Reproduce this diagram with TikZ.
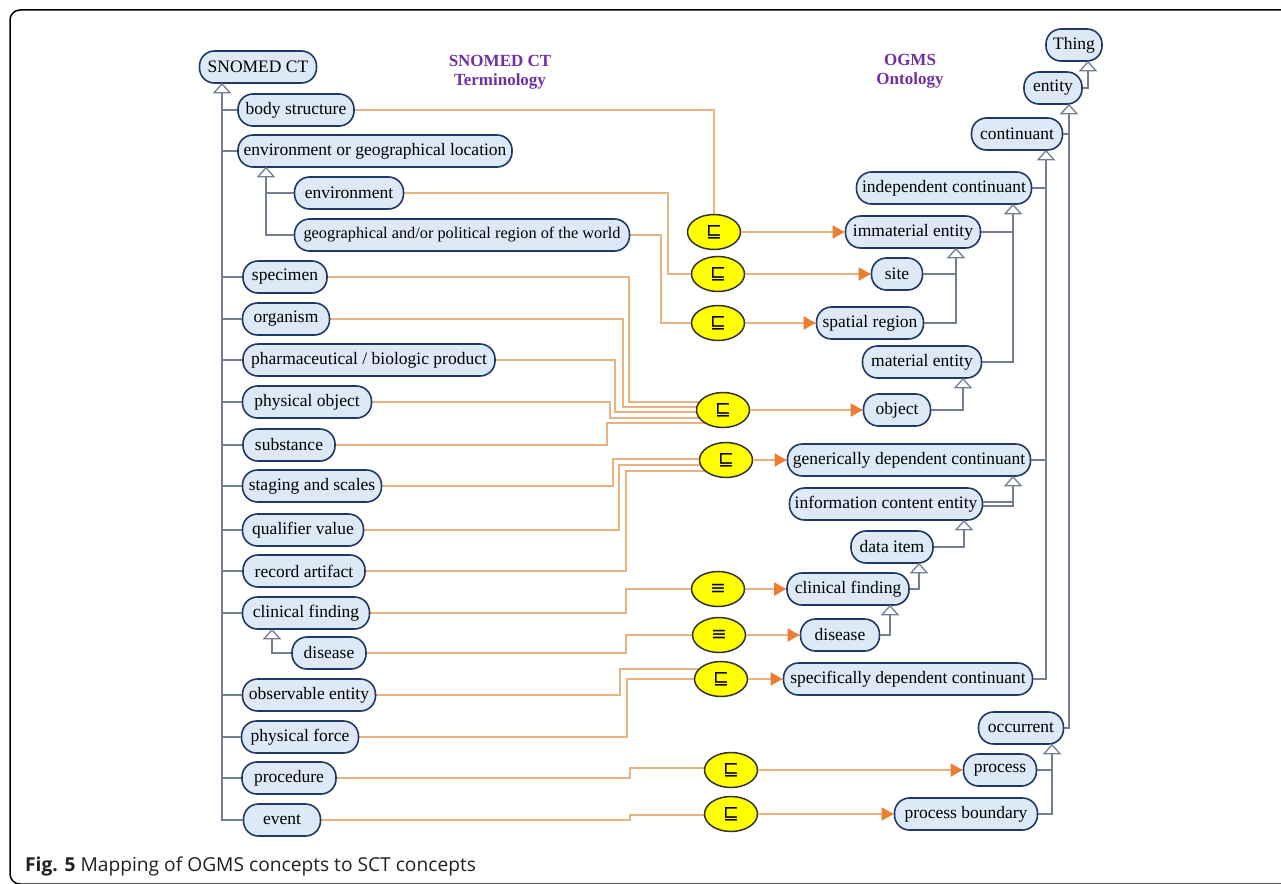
\documentclass[tikz,border=0pt]{standalone}
\usepackage{fontspec}
\setmainfont{Liberation Serif}
\newfontfamily\capfont{Open Sans}
\newfontfamily\symfont{DejaVu Sans}
\usetikzlibrary{arrows.meta,calc,backgrounds,shapes.geometric}
\definecolor{boxfill}{RGB}{221,233,246}
\definecolor{boxdraw}{RGB}{31,56,100}
\definecolor{hiercol}{RGB}{115,126,146}
\definecolor{mapcol}{RGB}{233,178,130}
\definecolor{tipcol}{RGB}{237,125,49}
\definecolor{titlecol}{RGB}{112,48,160}
\definecolor{ovalfill}{RGB}{255,255,0}
\definecolor{ovaldraw}{RGB}{50,50,60}
\definecolor{captext}{RGB}{35,31,32}
\tikzset{
 cbox/.style={draw=boxdraw, fill=boxfill, line width=1.6pt, rounded corners=15pt, minimum height=32pt, inner xsep=2pt, inner ysep=0pt, font=\fontsize{17.5}{20}\selectfont, text=black},
 oval/.style={ellipse, draw=ovaldraw, fill=ovalfill, line width=1.5pt, minimum width=53pt, minimum height=35pt, inner sep=0pt, font=\symfont\fontsize{19}{20}\selectfont},
 hier/.style={draw=hiercol, line width=1.5pt},
 tri/.style={draw=hiercol, line width=1.3pt, fill=white},
 map/.style={draw=mapcol, line width=1.5pt},
 maparrow/.style={map, -{Triangle[length=12pt,width=13pt,color=tipcol]}},
 title/.style={font=\bfseries\fontsize{17}{19}\selectfont, text=titlecol, align=center}
}
\newcommand\isatri[3]{%
 \coordinate (#1) at ($(#2.south -| #3,0)+(0,9)$);
 \draw[tri] (#2.south -| #3,0) -- ++(-8,9) -- ++(16,0) -- cycle;}
\begin{document}
\begin{tikzpicture}[x=1pt,y=-1pt]
\useasboundingbox (0,0) rectangle (1281,883);
\draw[line width=1.5pt, rounded corners=10pt] (1300,10) -- (10,10) -- (10,884) -- (1300,884);

% titles
\node[title] (t1) at (500,72) {SNOMED CT\\Terminology};
\node[title] (t2) at (910,71) {OGMS\\Ontology};

% left column
\node[cbox, minimum width=117pt] (snomed) at (258,67) {SNOMED CT};
\node[cbox, minimum width=116pt] (body) at (296,110) {body structure};
\node[cbox, minimum width=274pt] (envgeo) at (375,151) {environment or geographical location};
\node[cbox, minimum width=109pt] (environment) at (349,193) {environment};
\node[cbox, minimum width=335pt, font=\fontsize{16.3}{19}\selectfont] (geo) at (462,235) {geographical and/or political region of the world};
\node[cbox, minimum width=84pt] (specimen) at (285,277) {specimen};
\node[cbox, minimum width=87pt] (organism) at (286,319) {organism};
\node[cbox, minimum width=252pt] (pharma) at (369,360) {pharmaceutical / biologic product};
\node[cbox, minimum width=129pt] (physobj) at (307,402) {physical object};
\node[cbox, minimum width=92pt] (substance) at (289,445) {substance};
\node[cbox, minimum width=139pt] (staging) at (312,486) {staging and scales};
\node[cbox, minimum width=121pt] (qualifier) at (303,530) {qualifier value};
\node[cbox, minimum width=122pt] (record) at (304,571) {record artifact};
\node[cbox, minimum width=127pt] (clinical) at (306,613) {clinical finding};
\node[cbox, minimum width=74pt] (disease) at (329,653) {disease};
\node[cbox, minimum width=133pt] (observable) at (309,695) {observable entity};
\node[cbox, minimum width=117pt] (physforce) at (300,737) {physical force};
\node[cbox, minimum width=94pt] (procedure) at (289,778) {procedure};
\node[cbox, minimum width=77pt] (event) at (282,820) {event};

% right column
\node[cbox, minimum width=56pt] (thing) at (1074,45) {Thing};
\node[cbox, minimum width=58pt] (entity) at (1053,88) {entity};
\node[cbox, minimum width=91pt] (continuant) at (1017,134) {continuant};
\node[cbox, minimum width=175pt] (indep) at (944,188) {independent continuant};
\node[cbox, minimum width=135pt] (immaterial) at (913,232) {immaterial entity};
\node[cbox, minimum width=51pt] (site) at (897,274) {site};
\node[cbox, minimum width=107pt] (spatial) at (870,323) {spatial region};
\node[cbox, minimum width=119pt] (material) at (922,362) {material entity};
\node[cbox, minimum width=67pt] (object) at (897,410) {object};
\node[cbox, minimum width=243pt] (gdc) at (909,460) {generically dependent continuant};
\node[cbox, minimum width=193pt] (ice) at (886,504) {information content entity};
\node[cbox, minimum width=82pt] (dataitem) at (892,547) {data item};
\node[cbox, minimum width=122pt] (cfR) at (848,589) {clinical finding};
\node[cbox, minimum width=79pt] (disR) at (840,635) {disease};
\node[cbox, minimum width=249pt] (sdc) at (908,679) {specifically dependent continuant};
\node[cbox, minimum width=85pt] (occurrent) at (1021,728) {occurrent};
\node[cbox, minimum width=73pt] (process) at (1000,770) {process};
\node[cbox, minimum width=143pt] (pb) at (966,814) {process boundary};

% mapping ovals
\node[oval] (o1) at (714,232) {⊑};
\node[oval] (o2) at (718,274) {⊑};
\node[oval] (o3) at (718,323) {⊑};
\node[oval] (o4) at (723,410) {⊑};
\node[oval] (o5) at (726,460) {⊑};
\node[oval] (o6) at (718,589) {≡};
\node[oval] (o7) at (719,635) {≡};
\node[oval] (o8) at (721,679) {⊑};
\node[oval] (o9) at (731,770) {⊑};
\node[oval] (o10) at (731,814) {⊑};

% SNOMED hierarchy
\isatri{tS}{snomed}{222}
\draw[hier] (tS) |- (event.west);
\foreach \n in {body,envgeo,specimen,organism,pharma,physobj,substance,staging,qualifier,record,clinical,observable,physforce,procedure}
  \draw[hier] (tS |- \n.west) -- (\n.west);
\isatri{tE}{envgeo}{266}
\draw[hier] (tE) |- (geo.west);
\draw[hier] (tE |- environment.west) -- (environment.west);
\isatri{tC}{clinical}{272}
\draw[hier] (tC) |- (disease.west);

% OGMS hierarchy
\isatri{tThing}{thing}{1088}
\draw[hier] (entity.east) -| (tThing);
\isatri{tEnt}{entity}{1069}
\draw[hier] (tEnt) |- (occurrent.east);
\draw[hier] (continuant.east) -- (tEnt |- continuant.east);
\isatri{tCont}{continuant}{1046}
\draw[hier] (tCont) |- (sdc.east);
\draw[hier] (indep.east) -- (tCont |- indep.east);
\draw[hier] (gdc.east) -- (tCont |- gdc.east);
\isatri{tInd}{indep}{1013}
\draw[hier] (tInd) |- (material.east);
\draw[hier] (immaterial.east) -- (tInd |- immaterial.east);
\isatri{tImm}{immaterial}{956}
\draw[hier] (tImm) |- (spatial.east);
\draw[hier] (site.east) -- (tImm |- site.east);
\isatri{tMat}{material}{963}
\draw[hier] (tMat) |- (object.east);
\isatri{tGdc}{gdc}{1013}
\draw[hier] (tGdc) |- ($(ice.east)+(0,2)$);
\draw[hier] ($(ice.east)+(0,-2)$) -- ++(30,0);
\isatri{tIce}{ice}{964}
\draw[hier] (tIce) |- (dataitem.east);
\isatri{tData}{dataitem}{919}
\draw[hier] (tData) |- (cfR.east);
\isatri{tCfr}{cfR}{890}
\draw[hier] (tCfr) |- (disR.east);
\isatri{tOcc}{occurrent}{1052}
\draw[hier] (tOcc) |- (pb.east);
\draw[hier] (process.east) -- (tOcc |- process.east);

% mapping lines (behind ovals)
\begin{pgfonlayer}{background}
\draw[map] (body.east) -| (o1.north);
\draw[map] (environment.east) -| ($(o2.center)+(-50,0)$) -- (o2.center);
\draw[map] (geo.east) -| ($(o3.center)+(-57,0)$) -- (o3.center);
\draw[map] (specimen.east) -| ($(o4.center)+(-94,-8)$) -- ($(o4.center)+(0,-8)$);
\draw[map] (organism.east) -| ($(o4.center)+(-100,-3)$) -- ($(o4.center)+(0,-3)$);
\draw[map] (pharma.east) -| ($(o4.center)+(-108,2)$) -- ($(o4.center)+(0,2)$);
\draw[map] (physobj.east) -| ($(o4.center)+(-113,8)$) -- ($(o4.center)+(0,8)$);
\draw[map] (substance.east) -| ($(o4.center)+(-116,13)$) -- ($(o4.center)+(0,13)$);
\draw[map] (staging.east) -| ($(o5.center)+(-113,-1)$) -- ($(o5.center)+(0,-1)$);
\draw[map] (qualifier.east) -| ($(o5.center)+(-107,5)$) -- ($(o5.center)+(0,5)$);
\draw[map] (record.east) -| ($(o5.center)+(-100,11)$) -- ($(o5.center)+(0,11)$);
\draw[map] (clinical.east) -| ($(o6.center)+(-92,0)$) -- (o6.center);
\draw[map] (disease.east) -| ($(o7.center)+(-93,0)$) -- (o7.center);
\draw[map] (observable.east) -| ($(o8.center)+(-101,-10)$) -- ($(o8.center)+(0,-10)$);
\draw[map] (physforce.east) -| ($(o8.center)+(-94,0)$) -- (o8.center);
\draw[map] (procedure.east) -| ($(o9.center)+(-101,-2)$) -- ($(o9.center)+(0,-2)$);
\draw[map] (event.east) -| ($(o10.center)+(-101,1)$) -- ($(o10.center)+(0,1)$);
\end{pgfonlayer}

% mapping arrows
\draw[maparrow] (o1.east) -- (immaterial.west);
\draw[maparrow] (o2.east) -- (site.west);
\draw[maparrow] (o3.east) -- (spatial.west);
\draw[maparrow] (o4.east) -- (object.west);
\draw[maparrow] (o5.east) -- (gdc.west);
\draw[maparrow] (o6.east) -- (cfR.west);
\draw[maparrow] (o7.east) -- (disR.west);
\draw[maparrow] (o8.east) -- (sdc.west);
\draw[maparrow] (o9.east) -- (process.west);
\draw[maparrow] (o10.east) -- (pb.west);

% caption
\node[anchor=base west, inner sep=0pt, font=\capfont\fontsize{19.2}{22}\selectfont, text=captext] (cap) at (25,871) {\textbf{Fig. 5} Mapping of OGMS concepts to SCT concepts};
\end{tikzpicture}
\end{document}
